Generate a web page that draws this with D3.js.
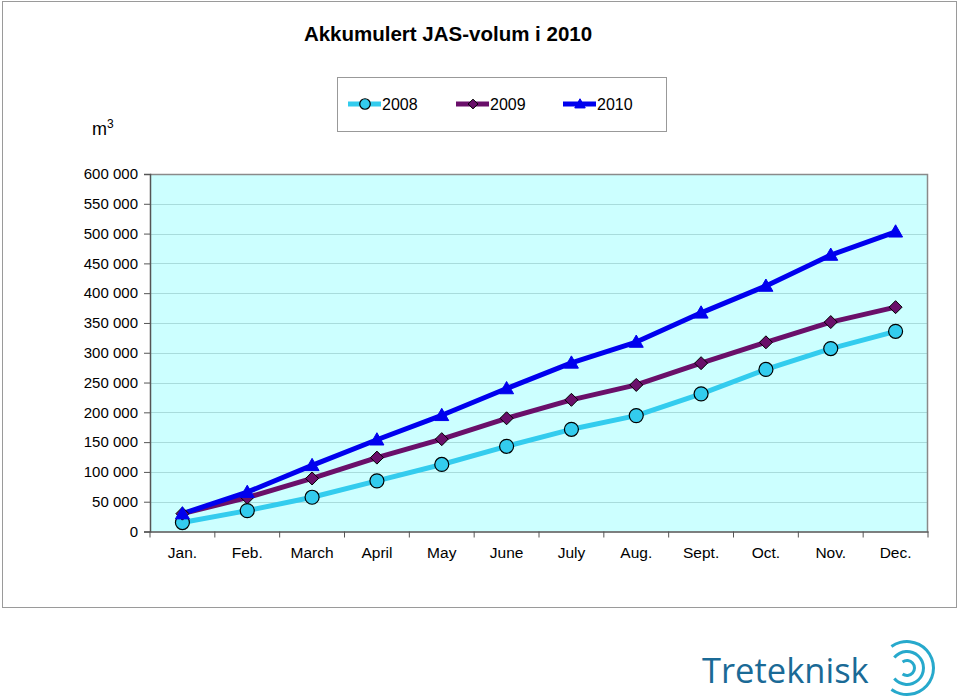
<!DOCTYPE html>
<html>
<head>
<meta charset="utf-8">
<script src="https://cdn.jsdelivr.net/npm/d3@7"></script>
<style>
  html, body { margin: 0; padding: 0; background: #fff; }
  svg { display: block; font-family: "Liberation Sans", Arial, sans-serif; }
</style>
</head>
<body>
<svg id="chart" width="960" height="699"></svg>
<script>
const months = ["Jan.", "Feb.", "March", "April", "May", "June", "July", "Aug.", "Sept.", "Oct.", "Nov.", "Dec."];
const values2008 = [15000, 35000, 57500, 85000, 112500, 143000, 171500, 194500, 231000, 272000, 307000, 336000];
const values2009 = [30000, 57000, 89000, 124000, 155000, 190000, 221000, 246000, 282500, 317500, 351500, 376500];
const values2010 = [30000, 66000, 111000, 154000, 195000, 240000, 283000, 318000, 367000, 412000, 464000, 503000];
const yTicks = [0, 50000, 100000, 150000, 200000, 250000, 300000, 350000, 400000, 450000, 500000, 550000, 600000];
const seriesNames = ["2008", "2009", "2010"];

const series = [
  { name: seriesNames[0], values: values2008, color: "#33CCEE", marker: "circle" },
  { name: seriesNames[1], values: values2009, color: "#6A0F6A", marker: "diamond" },
  { name: seriesNames[2], values: values2010, color: "#0000EE", marker: "triangle" }
];

const svg = d3.select("#chart");

// outer frame
svg.append("rect").attr("x", 2.5).attr("y", 1.5).attr("width", 954).attr("height", 606)
  .attr("fill", "#fff").attr("stroke", "#9a9a9a").attr("stroke-width", 1);

// title
svg.append("text").attr("x", 448).attr("y", 41).attr("text-anchor", "middle")
  .attr("font-size", 20.5).attr("font-weight", "bold").attr("fill", "#000")
  .text("Akkumulert JAS-volum i 2010");

// unit label
const unit = svg.append("text").attr("x", 92).attr("y", 135).attr("font-size", 18).attr("fill", "#000");
unit.append("tspan").text("m");
unit.append("tspan").attr("dy", -7).attr("font-size", 12).text("3");

const plot = { left: 150, right: 928, top: 174, bottom: 531.5 };

const x = d3.scaleBand().domain(months).range([plot.left, plot.right]).padding(0);
const y = d3.scaleLinear().domain([0, 600000]).range([plot.bottom, plot.top]);

// background
svg.append("rect").attr("x", plot.left).attr("y", plot.top)
  .attr("width", plot.right - plot.left).attr("height", plot.bottom - plot.top)
  .attr("fill", "#CCFFFF");

// gridlines
svg.append("g").selectAll("line").data(yTicks.filter(d => d > 0 && d < 600000)).join("line")
  .attr("x1", plot.left).attr("x2", plot.right)
  .attr("y1", d => Math.round(y(d)) + 0.5).attr("y2", d => Math.round(y(d)) + 0.5)
  .attr("stroke", "#A8DCDC").attr("stroke-width", 1);

// top & right border
svg.append("path")
  .attr("d", `M${plot.left},${plot.top + 0.5}H${plot.right - 0.5}V${plot.bottom}`)
  .attr("fill", "none").attr("stroke", "#8a8a8a").attr("stroke-width", 1.5);

// y axis
const yAxis = d3.axisLeft(y).tickValues(yTicks).tickSize(6).tickPadding(6)
  .tickFormat(d => d3.format(",")(d).replace(/,/g, " "));
const gy = svg.append("g").attr("transform", `translate(${plot.left},0)`).call(yAxis);
gy.attr("font-size", 15).attr("font-family", "Liberation Sans, Arial, sans-serif");
gy.select(".domain").attr("stroke", "#555").attr("stroke-width", 1.5);
gy.selectAll(".tick line").attr("stroke", "#555");
gy.selectAll(".tick text").attr("fill", "#000");

// x axis
const xAxis = d3.axisBottom(x).tickSize(0).tickPadding(15);
const gx = svg.append("g").attr("transform", `translate(0,${plot.bottom})`).call(xAxis);
gx.attr("font-size", 15.5).attr("font-family", "Liberation Sans, Arial, sans-serif");
gx.select(".domain").attr("stroke", "#555").attr("stroke-width", 1.5);
gx.selectAll(".tick text").attr("fill", "#000");
// category boundary ticks
svg.append("g").selectAll("line").data(months.concat(["_end"])).join("line")
  .attr("x1", (d, i) => i < months.length ? x(d) : x.range()[1])
  .attr("x2", (d, i) => i < months.length ? x(d) : x.range()[1])
  .attr("y1", plot.bottom).attr("y2", plot.bottom + 6)
  .attr("stroke", "#555").attr("stroke-width", 1);

const cx = m => x(m) + x.bandwidth() / 2;

const line = d3.line().x((d, i) => cx(months[i])).y(d => y(d));

function drawMarker(g, type, color, px, py, scale) {
  if (type === "circle") {
    g.append("circle").attr("cx", px).attr("cy", py).attr("r", 7 * scale)
      .attr("fill", color).attr("stroke", "#000").attr("stroke-width", 1.2);
  } else if (type === "diamond") {
    const s = 6.5 * scale;
    g.append("path").attr("d", `M${px},${py - s}L${px + s},${py}L${px},${py + s}L${px - s},${py}Z`)
      .attr("fill", color).attr("stroke", "#000").attr("stroke-width", 1);
  } else {
    const s = 7 * scale;
    g.append("path").attr("d", `M${px},${py - s}L${px + s},${py + s * 0.75}L${px - s},${py + s * 0.75}Z`)
      .attr("fill", color).attr("stroke", color).attr("stroke-width", 1);
  }
}

series.forEach(s => {
  svg.append("path").datum(s.values).attr("d", line)
    .attr("fill", "none").attr("stroke", s.color).attr("stroke-width", 5)
    .attr("stroke-linejoin", "round");
});
series.forEach(s => {
  const g = svg.append("g");
  s.values.forEach((v, i) => drawMarker(g, s.marker, s.color, cx(months[i]), y(v), 1));
});

// legend
svg.append("rect").attr("x", 337.5).attr("y", 77.5).attr("width", 329).attr("height", 54)
  .attr("fill", "#fff").attr("stroke", "#999").attr("stroke-width", 1);
const legendX = [348, 456, 563];
series.forEach((s, i) => {
  const g = svg.append("g");
  const lx = legendX[i];
  g.append("line").attr("x1", lx).attr("x2", lx + 33).attr("y1", 104).attr("y2", 104)
    .attr("stroke", s.color).attr("stroke-width", 5);
  drawMarker(g, s.marker, s.color, lx + 17, 104, 0.75);
  g.append("text").attr("x", lx + 34).attr("y", 110).attr("font-size", 16).attr("fill", "#000")
    .text(s.name);
});

// logo
svg.append("text").attr("x", 702).attr("y", 683).attr("font-size", 34.5)
  .attr("font-family", "Open Sans, Lato, sans-serif").attr("fill", "#1A6A96")
  .text("Treteknisk");
const logo = svg.append("g").attr("transform", "translate(907,668)");
const arcGen = d3.arc();
[[6, 9, 0.30], [15, 18, 0.22], [25, 28, 0.30]].forEach(([ri, ro, gap]) => {
  logo.append("path").attr("d", arcGen({ innerRadius: ri, outerRadius: ro,
      startAngle: -Math.PI / 2 + gap * Math.PI, endAngle: 1.5 * Math.PI - gap * Math.PI }))
    .attr("fill", "#27A9CC");
});
</script>
</body>
</html>
